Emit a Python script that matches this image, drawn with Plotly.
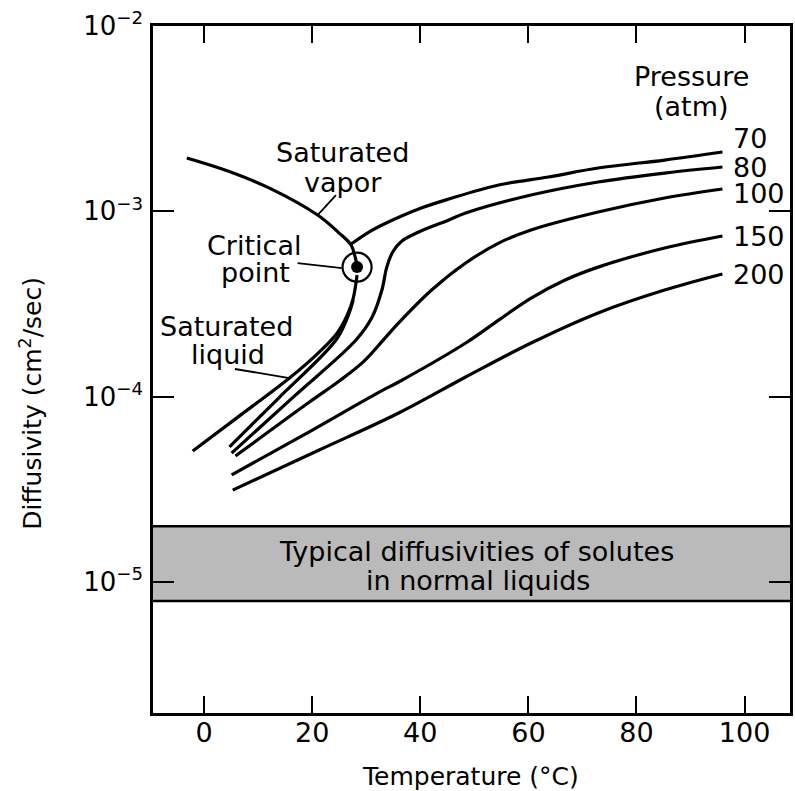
import math
import plotly.graph_objects as go

# ---------------- data ----------------
SAT_VAPOR_T = [-3.2, 4.4, 12.1, 21.0, 25.0, 27.2, 27.9, 28.3]
SAT_VAPOR_D = [1.94e-3, 1.65e-3, 1.335e-3, 9.55e-4, 7.63e-4, 6.58e-4, 5.74e-4, 5.13e-4]

SAT_LIQUID_T = [-2.1, 6.0, 15.8, 21.3, 24.6, 26.5, 27.6, 28.3]
SAT_LIQUID_D = [5.09e-5, 7.66e-5, 1.26e-4, 1.74e-4, 2.20e-4, 2.76e-4, 3.40e-4, 4.53e-4]

CRIT_T = [28.3]
CRIT_D = [5.0e-4]

P70_LIQ_T = [4.7, 13.8, 24.4, 26.5, 27.6]
P70_LIQ_D = [5.35e-5, 9.83e-5, 2.02e-4, 2.66e-4, 3.32e-4]

P70_VAP_T = [27.2, 30.5, 33.7, 39.7, 45.3, 54.5, 63.7, 72.9, 85.2, 95.9]
P70_VAP_D = [6.66e-4, 7.73e-4, 8.65e-4, 1.03e-3, 1.165e-3, 1.386e-3, 1.532e-3, 1.713e-3, 1.891e-3, 2.089e-3]

P80_T = [5.1, 16.7, 28.1, 31.1, 32.9, 33.8, 34.9, 36.6, 39.7, 45.3, 48.4, 60.5, 72.9, 85.2, 95.9]
P80_D = [4.96e-5, 1.007e-4, 2.02e-4, 2.69e-4, 3.76e-4, 5.0e-4, 6.03e-4, 6.91e-4, 7.73e-4, 8.98e-4,
         9.79e-4, 1.224e-3, 1.439e-3, 1.609e-3, 1.734e-3]

P100_T = [5.8, 19.5, 25.0, 29.6, 33.3, 36.0, 42.1, 48.4, 54.5, 60.5, 72.9, 85.2, 95.9]
P100_D = [4.78e-5, 9.35e-5, 1.214e-4, 1.556e-4, 2.045e-4, 2.50e-4, 3.76e-4, 5.26e-4, 6.74e-4,
          7.93e-4, 9.91e-4, 1.18e-3, 1.319e-3]

P150_T = [5.1, 18.7, 32.4, 36.0, 48.4, 54.5, 60.5, 66.8, 72.9, 85.2, 95.9]
P150_D = [3.78e-5, 6.28e-5, 1.058e-4, 1.20e-4, 1.947e-4, 2.59e-4, 3.40e-4, 4.26e-4, 5.0e-4, 6.34e-4, 7.36e-4]

P200_T = [5.3, 21.3, 36.0, 48.4, 60.5, 72.9, 85.2, 95.9]
P200_D = [3.13e-5, 5.15e-5, 8.16e-5, 1.276e-4, 1.947e-4, 2.83e-4, 3.76e-4, 4.59e-4]

BAND_LOW = 7.9e-6
BAND_HIGH = 2.0e-5

PRESSURES = ["70", "80", "100", "150", "200"]

X_TICKS = [0, 20, 40, 60, 80, 100]
Y_TICKS = [1e-5, 1e-4, 1e-3, 1e-2]
Y_TICK_TEXT = ["10<sup>\u22125</sup>", "10<sup>\u22124</sup>", "10<sup>\u22123</sup>", "10<sup>\u22122</sup>"]

VAPOR_LEADER_T = [24.4, 21.0]
VAPOR_LEADER_D = [1.224e-3, 9.55e-4]
CRIT_LEADER_T = [17.3, 25.5]
CRIT_LEADER_D = [5.26e-4, 4.94e-4]
LIQ_LEADER_T = [5.7, 15.8]
LIQ_LEADER_D = [1.41e-4, 1.26e-4]

X_RANGE = [-9.45, 108.4]
Y_RANGE = [-5.707, -2.0]

# ---------------- figure ----------------
FONT = "DejaVu Sans"
INK = "black"
fig = go.Figure()

# band of typical liquid diffusivities
fig.add_trace(go.Scatter(
    x=[X_RANGE[0], X_RANGE[1], X_RANGE[1], X_RANGE[0]],
    y=[BAND_LOW, BAND_LOW, BAND_HIGH, BAND_HIGH],
    fill="toself", fillcolor="#bababa", mode="lines", line=dict(width=0),
    hoverinfo="skip", showlegend=False))
for v in (BAND_LOW, BAND_HIGH):
    fig.add_trace(go.Scatter(x=X_RANGE, y=[v, v], mode="lines",
                             line=dict(color=INK, width=2.5), showlegend=False))

curve_style = dict(color=INK, width=3.2, shape="spline", smoothing=1.0)
for xs, ys in [(SAT_VAPOR_T, SAT_VAPOR_D), (SAT_LIQUID_T, SAT_LIQUID_D),
               (P70_LIQ_T, P70_LIQ_D), (P70_VAP_T, P70_VAP_D),
               (P80_T, P80_D), (P100_T, P100_D), (P150_T, P150_D), (P200_T, P200_D)]:
    fig.add_trace(go.Scatter(x=xs, y=ys, mode="lines", line=curve_style, showlegend=False))

for xs, ys in [(VAPOR_LEADER_T, VAPOR_LEADER_D), (CRIT_LEADER_T, CRIT_LEADER_D),
               (LIQ_LEADER_T, LIQ_LEADER_D)]:
    fig.add_trace(go.Scatter(x=xs, y=ys, mode="lines", line=dict(color=INK, width=1.8),
                             showlegend=False))

# critical point
fig.add_trace(go.Scatter(x=CRIT_T, y=CRIT_D, mode="markers",
                         marker=dict(symbol="circle-open", size=29, color=INK, line=dict(width=2.2)),
                         showlegend=False))
fig.add_trace(go.Scatter(x=CRIT_T, y=CRIT_D, mode="markers",
                         marker=dict(symbol="circle", size=12, color=INK), showlegend=False))

# annotations
ann = []
def txt(s, x, logy, size=27, **kw):
    ann.append(dict(text=s, x=x, y=logy, xref="x", yref="y", showarrow=False,
                    font=dict(family=FONT, size=size, color=INK), **kw))

txt("Saturated", 25.7, -2.680)
txt("vapor", 25.7, -2.842)
txt("Critical", 9.15, -3.182)
txt("point", 9.5, -3.328)
txt("Saturated", 4.2, -3.619)
txt("liquid", 4.4, -3.770)
txt("Pressure", 90.2, -2.275)
txt("(atm)", 90.2, -2.437)
txt("Typical diffusivities of solutes", 50.4, -4.833)
txt("in normal liquids", 50.6, -4.990)

ends = [(P70_VAP_T, P70_VAP_D), (P80_T, P80_D), (P100_T, P100_D), (P150_T, P150_D), (P200_T, P200_D)]
shifts = [14, 0, -4, 0, 0]
for lab, (xs, ys), sh in zip(PRESSURES, ends, shifts):
    txt(lab, xs[-1] + 1.5, math.log10(ys[-1]), xanchor="left", yshift=sh)

ann.append(dict(text="Temperature (\u00b0C)", x=0.498, y=-0.092, xref="paper", yref="paper",
                xanchor="center", yanchor="middle",
                showarrow=False, font=dict(family=FONT, size=25, color=INK)))
ann.append(dict(text="Diffusivity (cm<sup>2</sup>/sec)", x=-0.192, y=0.451, xref="paper", yref="paper",
                xanchor="center", yanchor="middle",
                showarrow=False, textangle=-90, font=dict(family=FONT, size=25, color=INK)))

fig.update_layout(
    width=795, height=791,
    margin=dict(l=153, r=2, t=26, b=78),
    paper_bgcolor="white", plot_bgcolor="white",
    annotations=ann, showlegend=False,
    font=dict(family=FONT, color=INK),
)
fig.update_xaxes(range=X_RANGE, tickvals=X_TICKS, ticks="inside", ticklen=17, tickwidth=2,
                 tickcolor=INK, showline=True, linecolor=INK, linewidth=2.5, mirror="ticks",
                 showgrid=False, zeroline=False, tickfont=dict(family=FONT, size=27, color=INK),
                 ticklabelstandoff=-6)
fig.update_yaxes(type="log", range=Y_RANGE, tickvals=Y_TICKS, ticktext=Y_TICK_TEXT,
                 ticks="inside", ticklen=21, tickwidth=2, tickcolor=INK, showline=True,
                 linecolor=INK, linewidth=2.5, mirror="ticks", showgrid=False, zeroline=False,
                 tickfont=dict(family=FONT, size=26, color=INK), ticklabelstandoff=2)

fig.write_html("out.html")
